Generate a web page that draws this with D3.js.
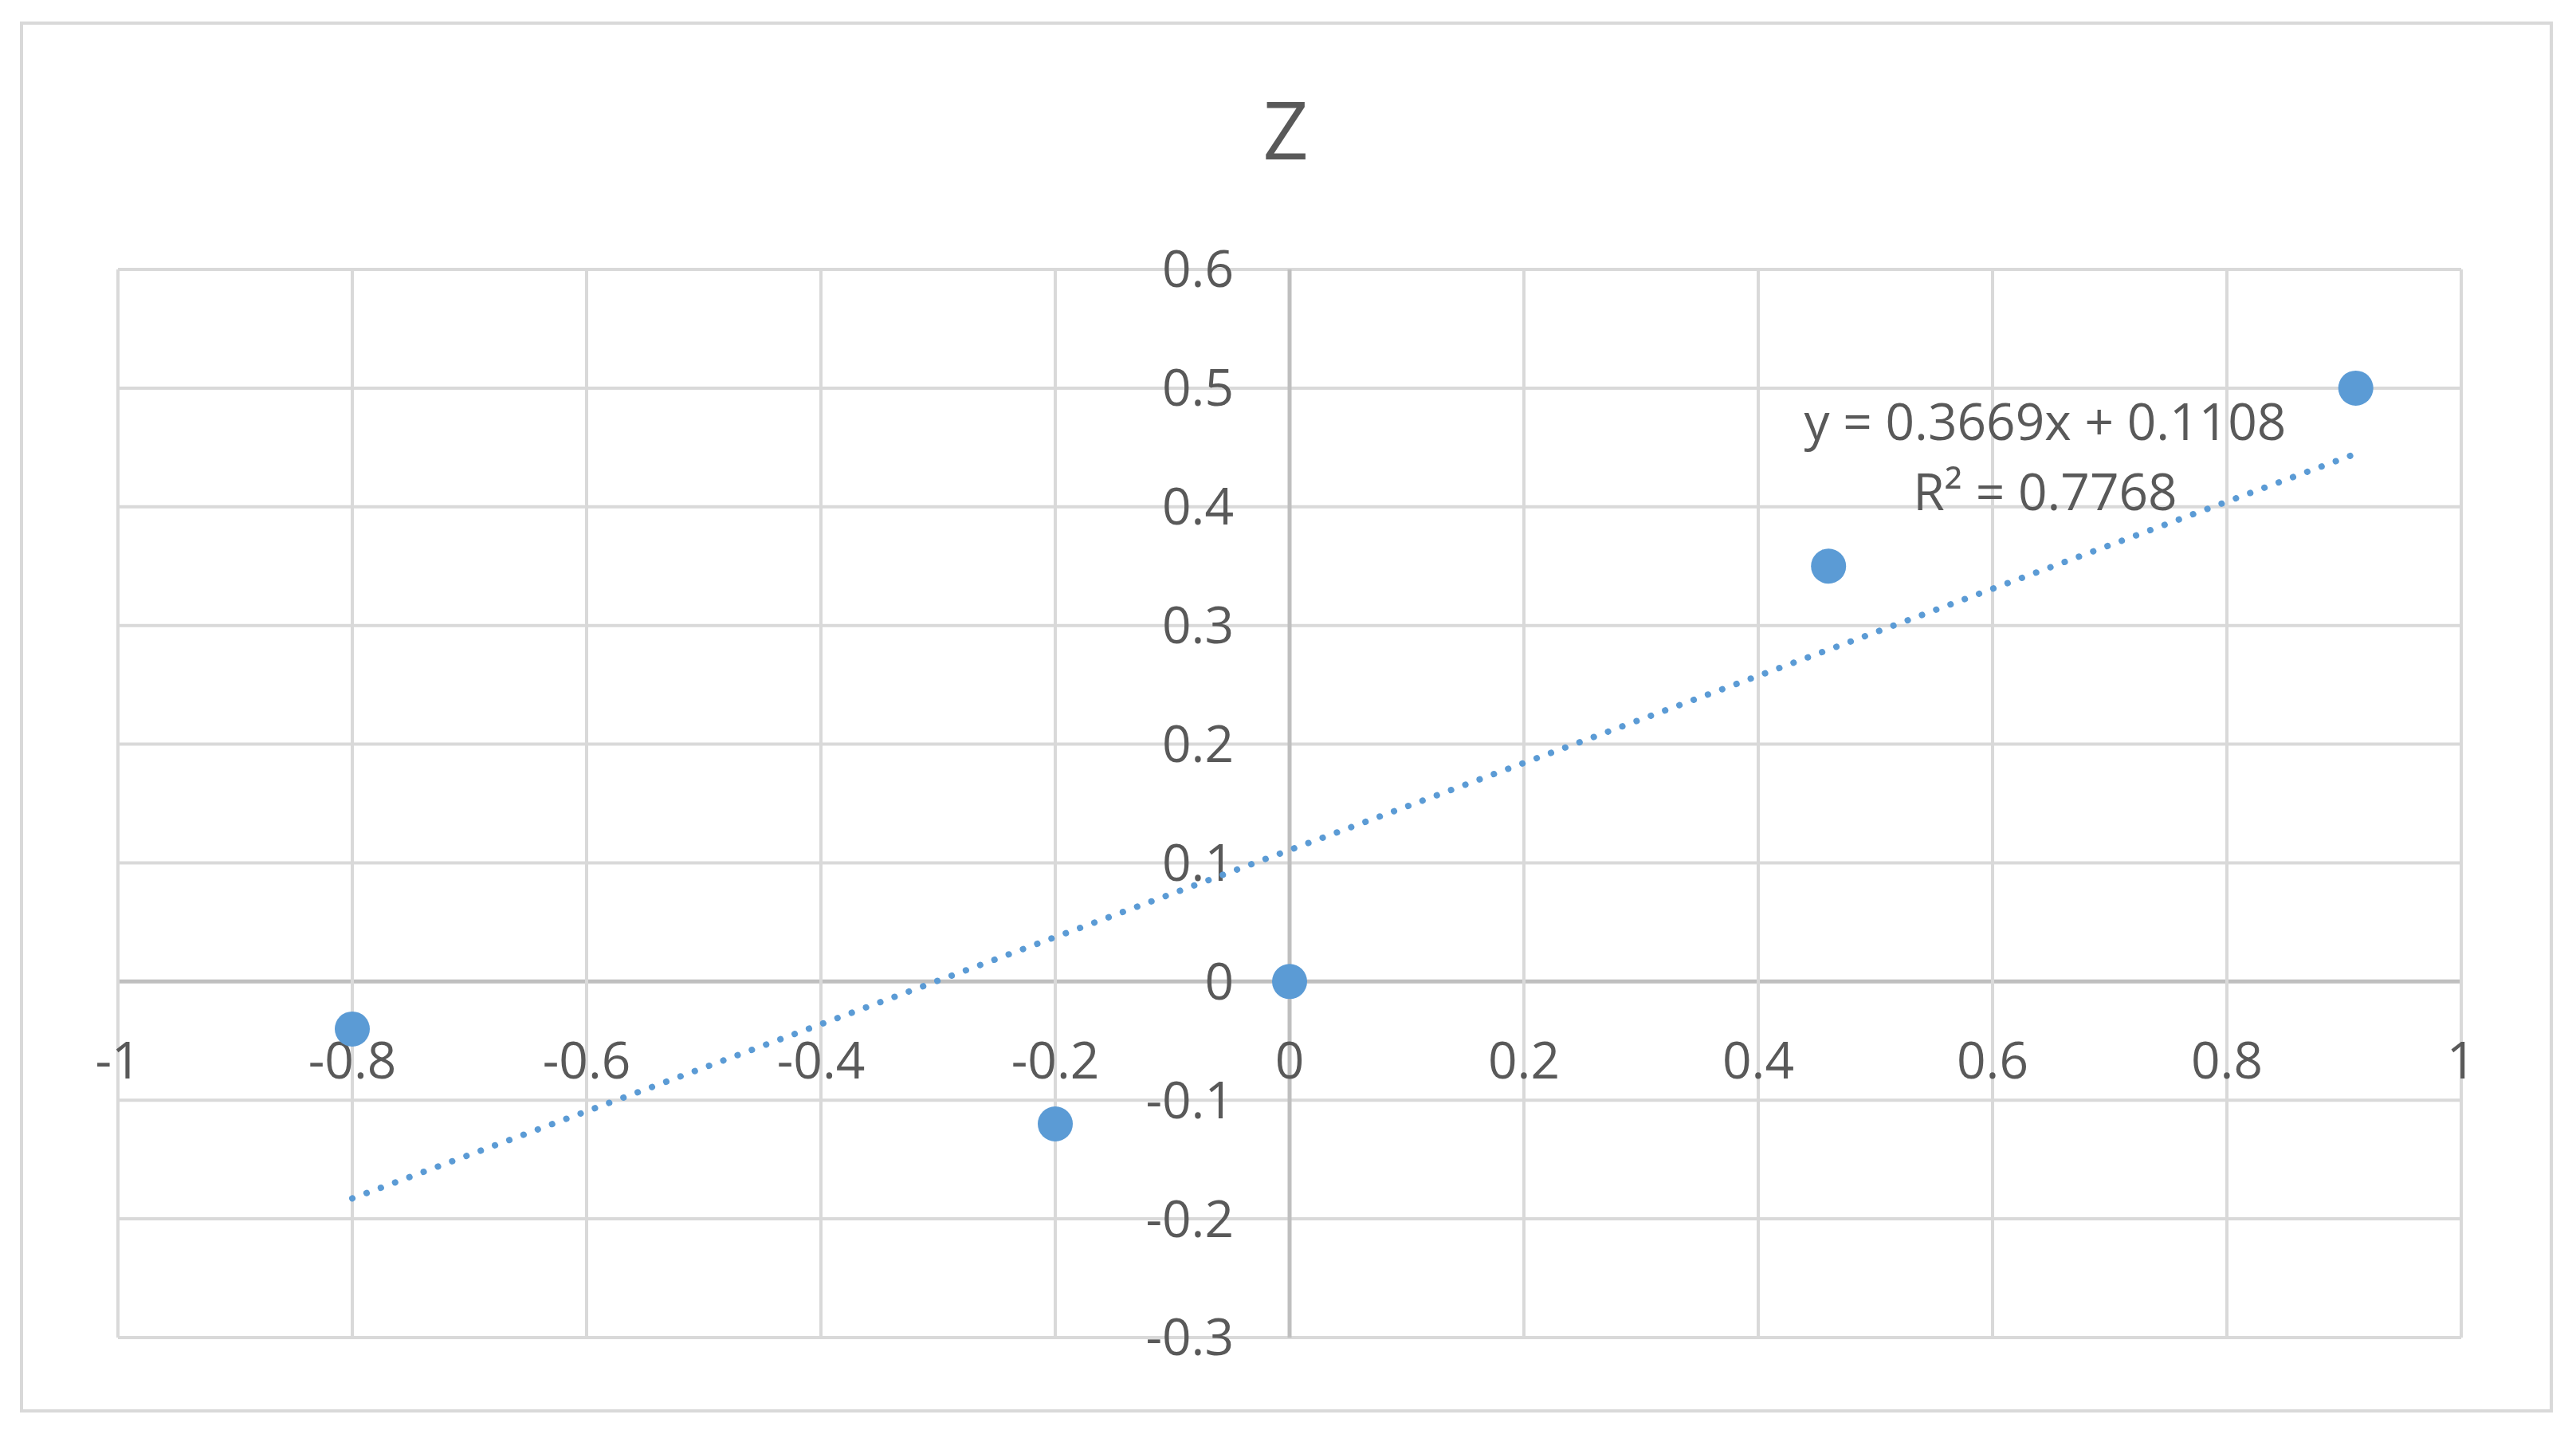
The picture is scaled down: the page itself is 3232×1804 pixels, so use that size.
<!DOCTYPE html>
<html><head><meta charset="utf-8">
<script src="https://cdn.jsdelivr.net/npm/d3@7"></script>
<style>body{margin:0;background:#fff}svg{display:block}</style>
</head><body>
<script>
const xs = [-0.8, -0.2, 0, 0.46, 0.91];
const ys = [-0.04, -0.12, 0, 0.35, 0.5];
const xTicks = [-1,-0.8,-0.6,-0.4,-0.2,0,0.2,0.4,0.6,0.8,1];
const yTicks = [-0.3,-0.2,-0.1,0,0.1,0.2,0.3,0.4,0.5,0.6];
const slope = 0.3669, intercept = 0.1108;
const eqText = "y = 0.3669x + 0.1108", r2Text = "R² = 0.7768";
const W=3232,H=1804, font="'Open Sans', 'Liberation Sans', sans-serif", tc="#595959";
const svg=d3.select("body").append("svg").attr("width",W).attr("height",H);
svg.append("rect").attr("width",W).attr("height",H).attr("fill","#fff");
svg.append("rect").attr("x",27).attr("y",29).attr("width",3174).attr("height",1741).attr("fill","none").attr("stroke","#d9d9d9").attr("stroke-width",4);
const x=d3.scaleLinear().domain([-1,1]).range([148,3088]);
const y=d3.scaleLinear().domain([-0.3,0.6]).range([1678,338]);
const g=svg.append("g");
g.selectAll(".hg").data(yTicks).join("line").attr("x1",x(-1)).attr("x2",x(1)).attr("y1",d=>y(d)).attr("y2",d=>y(d)).attr("stroke",d=>d===0?"#bfbfbf":"#d9d9d9").attr("stroke-width",d=>d===0?5:4);
g.selectAll(".vg").data(xTicks).join("line").attr("y1",y(0.6)).attr("y2",y(-0.3)).attr("x1",d=>x(d)).attr("x2",d=>x(d)).attr("stroke",d=>d===0?"#bfbfbf":"#d9d9d9").attr("stroke-width",d=>d===0?5:4);
g.selectAll(".yl").data(yTicks).join("text").attr("x",x(0)-70).attr("y",d=>y(d)).attr("dy","0.35em").attr("text-anchor","end").attr("font-family",font).attr("font-size",64).attr("fill",tc).text(d=>String(d));
g.selectAll(".xl").data(xTicks).join("text").attr("x",d=>x(d)).attr("y",y(0)+122).attr("text-anchor","middle").attr("font-family",font).attr("font-size",64).attr("fill",tc).text(d=>String(d));
const x0=d3.min(xs), x1=d3.max(xs);
svg.append("line").attr("x1",x(x0)).attr("y1",y(slope*x0+intercept)).attr("x2",x(x1)).attr("y2",y(slope*x1+intercept)).attr("stroke","#5b9bd5").attr("stroke-width",8).attr("stroke-linecap","round").attr("stroke-dasharray","0.1 19");
svg.selectAll(".pt").data(xs).join("circle").attr("cx",d=>x(d)).attr("cy",(d,i)=>y(ys[i])).attr("r",22).attr("fill","#5b9bd5");
svg.append("text").attr("x",1613).attr("y",200).attr("text-anchor","middle").attr("font-family",font).attr("font-size",100).attr("fill",tc).text("Z");
svg.append("text").attr("x",2566).attr("y",552).attr("text-anchor","middle").attr("font-family",font).attr("font-size",64).attr("fill",tc).text(eqText);
svg.append("text").attr("x",2566).attr("y",640).attr("text-anchor","middle").attr("font-family",font).attr("font-size",64).attr("fill",tc).text(r2Text);
</script>
</body></html>
